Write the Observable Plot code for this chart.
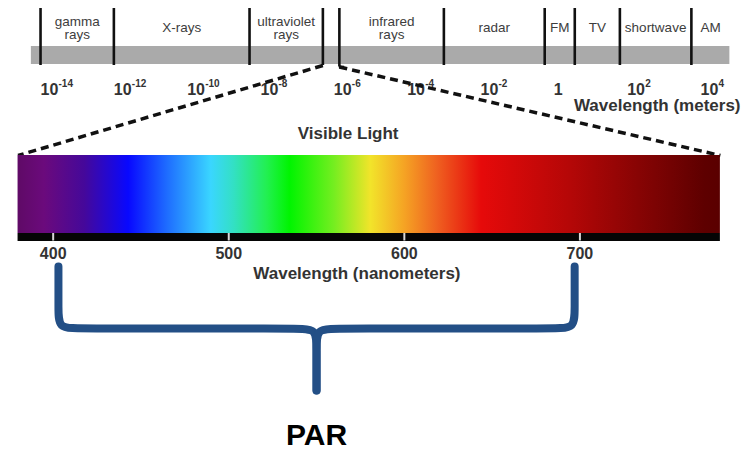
<!DOCTYPE html>
<html>
<head>
<meta charset="utf-8">
<script src="https://cdn.jsdelivr.net/npm/d3@7"></script>
<script src="https://cdn.jsdelivr.net/npm/@observablehq/plot@0.6"></script>
<style>
  body { margin: 0; background: #fff; }
  #chart svg { display: block; }
</style>
</head>
<body>
<div id="chart"></div>
<script>
// ---------------- DATA ----------------
// Electromagnetic spectrum bands (log10 of wavelength in meters)
const bandNames  = ["gamma\nrays", "X-rays", "ultraviolet\nrays", "infrared\nrays", "radar", "FM", "TV", "shortwave", "AM"];
const bandStart  = [-14, -12, -8.3, -5.85, -3, -0.25, 0.57, 1.8, 3.75];
const bandEnd    = [-12, -8.3, -6.3, -3, -0.25, 0.57, 1.8, 3.75, 4.8];
const dividers   = [-14, -12, -8.3, -6.3, -5.85, -3, -0.25, 0.57, 1.8, 3.75];
const bandExtent = [-14.25, 4.8];
const visibleGap = [-6.3, -5.85];

// Top axis ticks (log10 meters): base and exponent text
const meterTickExp  = [-14, -12, -10, -8, -6, -4, -2, 0, 2, 4];
const meterTickBase = ["10", "10", "10", "10", "10", "10", "10", "1", "10", "10"];
const meterTickSup  = ["-14", "-12", "-10", "-8", "-6", "-4", "-2", "", "2", "4"];

// Visible light (nanometers)
const visibleRange = [380, 780];
const nmTicks      = [400, 500, 600, 700];
const parRange     = [400, 700];

// Spectrum colour stops
const spectrumNm    = [380, 395, 418, 443, 465, 490, 503, 522, 535, 560, 581, 600, 619, 644, 695, 733, 771, 780];
const spectrumColor = ["#5f0a66", "#6b0a7c", "#45089a", "#0808ff", "#1e6cff", "#3ad6ff", "#33e0c4", "#22f050",
                       "#00f500", "#74ee20", "#f2e42a", "#f5a424", "#ef6020", "#e60a0a", "#b40707", "#880404",
                       "#5e0000", "#5a0000"];

// ---------------- LAYOUT ----------------
const W = 755, H = 453;
// top ruler (log10 m) placed against the nm axis
const mx = d3.scaleLinear().domain([-14, 4]).range([392.8, 768.7]);
const rows = {
  divTop: 8, bandTop: 46, bandBot: 64, catY: 27.5, meterLbl: 89, meterTitle: 105,
  barTop: 155, barBot: 233, stripBot: 241, nmLbl: 253.5, nmTitle: 273, visTitle: 133,
  braceTop: 266, braceBar: 328, braceTip: 390, parY: 435
};
const ink = "#333";

const bands = bandNames.map((name, i) => ({name, start: bandStart[i], end: bandEnd[i]}));
const meterTicks = meterTickExp.map((e, i) => ({e, base: meterTickBase[i], sup: meterTickSup[i]}));

// brace halves built from the PAR range
function braceHalf(leg, mid, dir) {
  const rx = 11 * dir, ry = 20;
  return [
    [leg, rows.braceTop], [leg, rows.braceTop + 10], [leg, rows.braceBar - ry], [leg, rows.braceBar], [leg + rx, rows.braceBar],
    [mid - rx, rows.braceBar], [mid, rows.braceBar], [mid, rows.braceBar + ry], [mid, rows.braceTip - 8], [mid, rows.braceTip]
  ];
}
const parMid = (parRange[0] + parRange[1]) / 2;
const braceLeft  = braceHalf(parRange[0] + 3, parMid, 1);
const braceRight = braceHalf(parRange[1] - 3, parMid, -1);

const connectors = [
  {x1: mx(visibleGap[0]), y1: 65, x2: visibleRange[0], y2: rows.barTop},
  {x1: mx(visibleGap[1]), y1: 66.5, x2: visibleRange[1], y2: rows.barTop}
];

const chart = Plot.plot({
  width: W, height: H,
  margin: 0,
  x: {domain: [370, 800], range: [0, W], axis: null},
  y: {domain: [0, H], range: [0, H], axis: null},
  style: {fontFamily: "'Liberation Sans', Arial, sans-serif", background: "#fff", overflow: "visible"},
  marks: [
    // gray band of the EM spectrum
    Plot.rect([bandExtent], {x1: d => mx(d[0]), x2: d => mx(d[1]), y1: rows.bandTop, y2: rows.bandBot, fill: "#aaaaaa"}),
    // band dividers
    Plot.ruleX(dividers, {x: d => mx(d), y1: rows.divTop, y2: d => d === visibleGap[1] ? 66.5 : rows.bandBot + 1, stroke: "#111", strokeWidth: 2.6}),
    Plot.ruleY([visibleGap[1]], {x1: d => mx(d), x2: d => mx(d) + 3, y: 66.5, stroke: "#111", strokeWidth: 2.6}),
    // band names
    Plot.text(bands, {x: d => mx((d.start + d.end) / 2), y: rows.catY, text: "name", fontSize: 13.5, lineHeight: 1, fill: "#3d3d3d"}),
    // meter tick labels (base + superscript exponent)
    Plot.text(meterTicks, {x: d => mx(d.e), y: rows.meterLbl, text: "base", textAnchor: "start", fontSize: 16, fontWeight: "bold", fill: ink}),
    Plot.text(meterTicks, {x: d => mx(d.e), y: rows.meterLbl - 6, text: "sup", dx: 18, textAnchor: "start", fontSize: 10, fontWeight: "bold", fill: ink}),
    Plot.text(["Wavelength (meters)"], {x: mx(5.09), y: rows.meterTitle, text: d => d, textAnchor: "end", fontSize: 17, fontWeight: "bold", fill: ink}),
    // dashed connectors
    Plot.link(connectors, {x1: "x1", y1: "y1", x2: "x2", y2: "y2", stroke: "#111", strokeWidth: 3.5, strokeDasharray: "8,5"}),
    Plot.text(["Visible Light"], {x: 568, y: rows.visTitle, text: d => d, fontSize: 17, fontWeight: "bold", fill: ink}),
    // visible spectrum bar
    Plot.rect([visibleRange], {x1: d => d[0], x2: d => d[1], y1: rows.barTop, y2: rows.barBot, fill: "url(#spectrum)"}),
    Plot.rect([visibleRange], {x1: d => d[0], x2: d => d[1], y1: rows.barBot, y2: rows.stripBot, fill: "#050505"}),
    Plot.ruleX(nmTicks, {x: d => d, y1: rows.barBot, y2: rows.stripBot - 0.5, stroke: "#d8d8d8", strokeWidth: 2}),
    Plot.text(nmTicks, {x: d => d, y: rows.nmLbl, text: d => String(d), fontSize: 16, fontWeight: "bold", fill: ink}),
    Plot.text(["Wavelength (nanometers)"], {x: 573, y: rows.nmTitle, text: d => d, fontSize: 17, fontWeight: "bold", fill: ink}),
    // PAR brace
    Plot.line(braceLeft,  {x: d => d[0], y: d => d[1], curve: "basis", stroke: "#234f86", strokeWidth: 8, strokeLinecap: "round", strokeLinejoin: "round"}),
    Plot.line(braceRight, {x: d => d[0], y: d => d[1], curve: "basis", stroke: "#234f86", strokeWidth: 8, strokeLinecap: "round", strokeLinejoin: "round"}),
    Plot.text(["PAR"], {x: parMid, y: rows.parY, text: d => d, fontSize: 30, fontWeight: "bold", fill: "#000"})
  ]
});

// gradient definition for the spectrum fill
const defs = d3.create("svg:defs");
const grad = defs.append("linearGradient").attr("id", "spectrum")
  .attr("x1", 0).attr("x2", 1).attr("y1", 0).attr("y2", 0);
spectrumNm.forEach((nm, i) => {
  grad.append("stop")
    .attr("offset", (nm - visibleRange[0]) / (visibleRange[1] - visibleRange[0]))
    .attr("stop-color", spectrumColor[i]);
});
chart.insertBefore(defs.node(), chart.firstChild);

document.getElementById("chart").appendChild(chart);
</script>
</body>
</html>
